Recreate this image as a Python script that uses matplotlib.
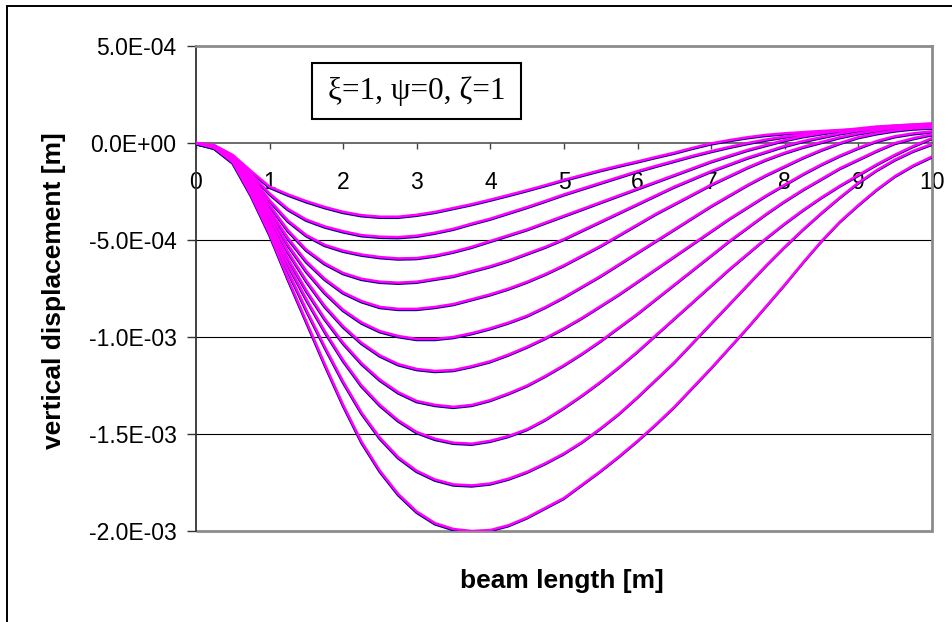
import matplotlib.pyplot as plt
from matplotlib.patches import Rectangle
from matplotlib.transforms import ScaledTranslation

plt.rcParams['font.family'] = ['Liberation Sans', 'DejaVu Sans']

# positions along the beam [m]
beam_x = [0, 0.25, 0.5, 0.75, 1, 1.25, 1.5, 1.75, 2, 2.25, 2.5, 2.75, 3, 3.25,
          3.5, 3.75, 4, 4.25, 4.5, 4.75, 5, 5.25, 5.5, 5.75, 6, 6.25, 6.5,
          6.75, 7, 7.25, 7.5, 7.75, 8, 8.25, 8.5, 8.75, 9, 9.25, 9.5, 9.75, 10]

# vertical displacement, in units of 1e-4 m, one row per load case
w_cases = [
    [0, -0.12, -0.62, -1.45, -2.25, -2.65, -3.0, -3.3, -3.55, -3.72, -3.8,
     -3.8, -3.7, -3.55, -3.35, -3.15, -2.92, -2.68, -2.43, -2.17, -1.9,
     -1.65, -1.4, -1.17, -0.95, -0.72, -0.5, -0.25, -0.02, 0.15, 0.3, 0.42,
     0.5, 0.56, 0.62, 0.67, 0.7, 0.73, 0.76, 0.78, 0.8],
    [0, -0.13, -0.66, -1.6, -2.6, -3.4, -3.95, -4.3, -4.55, -4.75, -4.83,
     -4.85, -4.78, -4.62, -4.42, -4.15, -3.9, -3.6, -3.3, -2.98, -2.65,
     -2.35, -2.05, -1.75, -1.45, -1.18, -0.92, -0.66, -0.42, -0.2, 0.0, 0.18,
     0.33, 0.45, 0.55, 0.63, 0.7, 0.76, 0.82, 0.86, 0.9],
    [0, -0.14, -0.68, -1.7, -2.95, -4.0, -4.75, -5.25, -5.55, -5.75, -5.88,
     -5.95, -5.93, -5.8, -5.6, -5.35, -5.05, -4.75, -4.45, -4.1, -3.75,
     -3.4, -3.05, -2.7, -2.35, -2.0, -1.65, -1.3, -0.95, -0.65, -0.35, -0.1,
     0.15, 0.35, 0.5, 0.65, 0.75, 0.85, 0.9, 0.95, 1.0],
    [0, -0.15, -0.7, -1.8, -3.2, -4.5, -5.5, -6.2, -6.7, -7.0, -7.15,
     -7.2, -7.15, -7.0, -6.85, -6.6, -6.35, -6.05, -5.7, -5.35, -4.95,
     -4.5, -4.05, -3.6, -3.15, -2.7, -2.25, -1.85, -1.45, -1.1, -0.75, -0.45,
     -0.15, 0.1, 0.3, 0.5, 0.65, 0.8, 0.9, 0.95, 1.0],
    [0, -0.16, -0.72, -1.9, -3.45, -4.9, -6.1, -7.0, -7.7, -8.15, -8.45,
     -8.55, -8.55, -8.45, -8.3, -8.05, -7.8, -7.5, -7.15, -6.75, -6.3,
     -5.8, -5.3, -4.75, -4.2, -3.65, -3.15, -2.65, -2.15, -1.7, -1.25, -0.85,
     -0.5, -0.2, 0.05, 0.3, 0.5, 0.65, 0.8, 0.9, 0.95],
    [0, -0.17, -0.75, -2.0, -3.65, -5.25, -6.6, -7.7, -8.6, -9.25, -9.7,
     -9.95, -10.1, -10.1, -10.0, -9.8, -9.55, -9.25, -8.9, -8.45, -7.95,
     -7.4, -6.85, -6.25, -5.65, -5.05, -4.45, -3.85, -3.25, -2.7, -2.15, -1.65,
     -1.2, -0.75, -0.35, 0.0, 0.3, 0.5, 0.65, 0.75, 0.8],
    [0, -0.18, -0.8, -2.1, -3.85, -5.6, -7.1, -8.4, -9.45, -10.3, -10.95,
     -11.4, -11.65, -11.75, -11.7, -11.5, -11.25, -10.9, -10.5, -10.05, -9.55,
     -9.0, -8.4, -7.8, -7.15, -6.5, -5.85, -5.2, -4.55, -3.9, -3.3, -2.7,
     -2.15, -1.6, -1.1, -0.65, -0.25, 0.1, 0.35, 0.5, 0.6],
    [0, -0.2, -0.85, -2.25, -4.1, -5.95, -7.6, -9.05, -10.3, -11.35, -12.2,
     -12.85, -13.3, -13.5, -13.6, -13.5, -13.25, -12.9, -12.5, -12.0, -11.45,
     -10.85, -10.2, -9.5, -8.8, -8.05, -7.3, -6.55, -5.8, -5.05, -4.35, -3.65,
     -3.0, -2.4, -1.85, -1.3, -0.85, -0.4, 0.0, 0.25, 0.45],
    [0, -0.22, -0.9, -2.4, -4.3, -6.25, -8.05, -9.7, -11.2, -12.5, -13.5,
     -14.3, -14.9, -15.25, -15.45, -15.5, -15.35, -15.1, -14.75, -14.25, -13.65,
     -13.0, -12.3, -11.55, -10.75, -9.9, -9.05, -8.2, -7.35, -6.5, -5.7, -4.9,
     -4.15, -3.45, -2.8, -2.2, -1.65, -1.1, -0.6, -0.15, 0.25],
    [0, -0.24, -0.95, -2.55, -4.5, -6.6, -8.6, -10.5, -12.3, -13.9, -15.2,
     -16.2, -16.9, -17.35, -17.6, -17.65, -17.55, -17.3, -16.95, -16.5, -16.0,
     -15.4, -14.7, -13.95, -13.1, -12.2, -11.3, -10.3, -9.3, -8.3, -7.3, -6.3,
     -5.35, -4.45, -3.6, -2.8, -2.05, -1.4, -0.85, -0.4, -0.05],
    [0, -0.25, -1.0, -2.7, -4.7, -7.0, -9.2, -11.4, -13.5, -15.4, -16.9,
     -18.1, -19.0, -19.6, -19.9, -20.0, -19.95, -19.7, -19.3, -18.8, -18.3,
     -17.6, -16.9, -16.15, -15.35, -14.5, -13.6, -12.6, -11.6, -10.55, -9.5, -8.4,
     -7.3, -6.15, -5.05, -4.05, -3.2, -2.4, -1.7, -1.15, -0.7],
]

y_ticks = [5e-4, 0, -5e-4, -1e-3, -1.5e-3, -2e-3]
y_tick_labels = ['5.0E-04', '0.0E+00', '-5.0E-04', '-1.0E-03', '-1.5E-03', '-2.0E-03']
x_ticks = [0, 1, 2, 3, 4, 5, 6, 7, 8, 9, 10]

fig = plt.figure(figsize=(9.52, 6.22), dpi=100)
ax = fig.add_axes([196 / 952, 1 - 531 / 622, 736 / 952, 485 / 622])

# outer chart frame (runs off the right and bottom edges)
fig.add_artist(Rectangle((7 / 952, -0.1), 1.2, 1.1 - 6 / 622,
                         transform=fig.transFigure, fill=False,
                         edgecolor='black', lw=1.4))

for yg in [-5e-4, -1e-3, -1.5e-3]:
    ax.axhline(yg, color='black', lw=0.8, zorder=1)

# dark trace sits just under the magenta one
shift = ScaledTranslation(-0.004, -0.012, fig.dpi_scale_trans)
for w in w_cases:
    vals = [v * 1e-4 for v in w]
    ax.plot(beam_x, vals, color='#000080', lw=1.6, zorder=3,
            transform=ax.transData + shift, solid_joinstyle='round')
    ax.plot(beam_x, vals, color='#ff00ff', lw=1.8, zorder=4,
            solid_joinstyle='round')

ax.set_xlim(0, 10)
ax.set_ylim(-2e-3, 5e-4)

for side in ['top', 'right']:
    ax.spines[side].set_color('#8c8c8c')
    ax.spines[side].set_linewidth(2)
ax.spines['left'].set_color('#333333')
ax.spines['left'].set_linewidth(1.3)
ax.spines['bottom'].set_position(('data', 0))
ax.spines['bottom'].set_color('#444444')
ax.spines['bottom'].set_linewidth(1.1)
ax.add_patch(Rectangle((0, 0), 1, 0.0, transform=ax.transAxes, fill=False,
                       edgecolor='#8c8c8c', lw=2, clip_on=False, zorder=2))

ax.set_yticks(y_ticks)
ax.set_yticklabels(y_tick_labels)
ax.set_xticks(x_ticks)
ax.set_xticklabels([str(t) for t in x_ticks])
ax.tick_params(axis='y', direction='out', length=6.5, width=1, pad=7.5,
               labelsize=16.5, color='#333333')
ax.tick_params(axis='x', direction='out', length=4.5, width=1, pad=16,
               labelsize=16.5, color='#444444')

fig.text(54 / 952, 1 - 291 / 622, 'vertical displacement [m]', rotation=90,
         ha='center', va='center', fontsize=19, fontweight='bold')
fig.text(562 / 952, 1 - 581 / 622, 'beam length [m]', ha='center',
         va='center', fontsize=19, fontweight='bold')

# parameter box
x0, x1 = (312 - 196) / 736, (521 - 196) / 736
y0, y1 = (531 - 119) / 485, (531 - 63) / 485
ax.add_patch(Rectangle((x0, y0), x1 - x0, y1 - y0, transform=ax.transAxes,
                       facecolor='white', edgecolor='black', lw=1.5, zorder=5))
ax.text((x0 + x1) / 2, (y0 + y1) / 2, 'ξ=1, ψ=0, ζ=1', transform=ax.transAxes,
        ha='center', va='center', fontsize=22.5, zorder=6,
        family=['Liberation Serif', 'DejaVu Serif'])

fig.savefig('out.png', dpi=100)
